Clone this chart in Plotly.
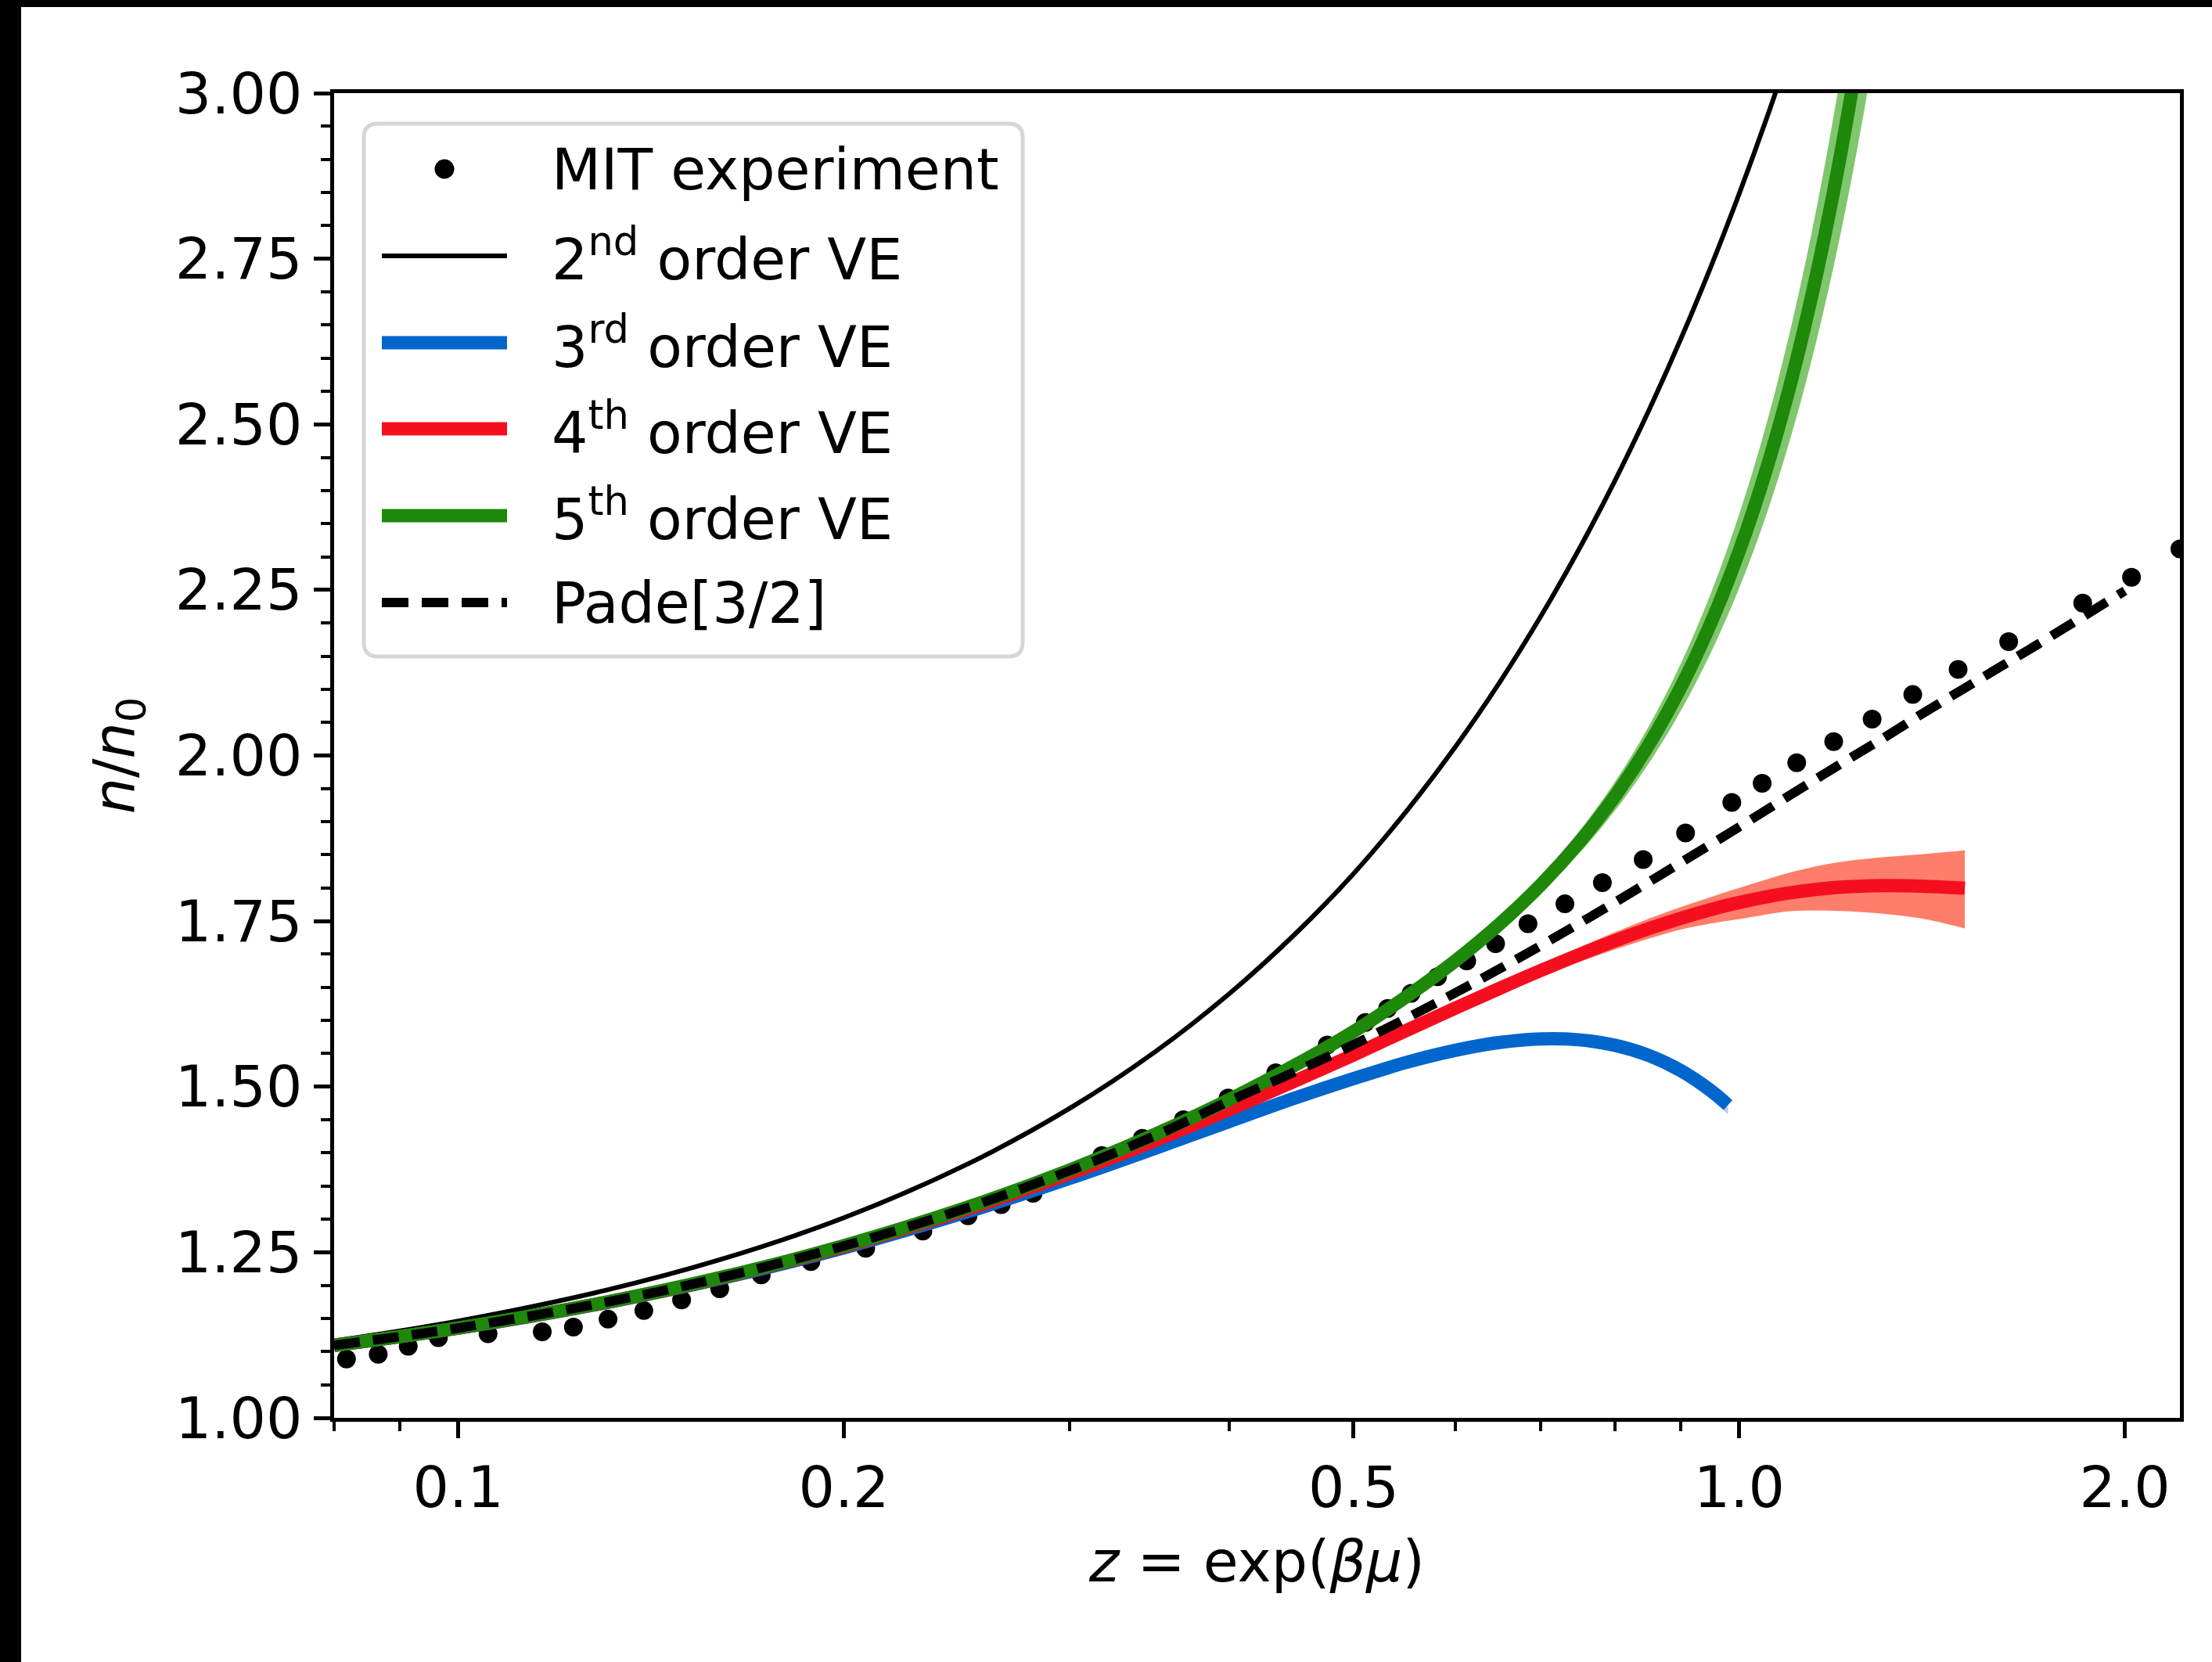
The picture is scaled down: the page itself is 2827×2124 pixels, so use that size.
import math
import plotly.graph_objects as go

# ---------------- data ----------------
mit_z = [0.0818, 0.0866, 0.0914, 0.0965, 0.1055, 0.1163, 0.1230, 0.1309, 0.1396, 0.1494,
         0.1600, 0.1724, 0.1885, 0.2080, 0.2305, 0.2500, 0.2654, 0.2810, 0.2980, 0.3180,
         0.3420, 0.3682, 0.3990, 0.4347, 0.4768, 0.5106, 0.5315, 0.5544, 0.5813, 0.6127,
         0.6453, 0.6840, 0.7310, 0.7819, 0.8414, 0.9080, 0.9867, 1.0420, 1.1088, 1.1850,
         1.2698, 1.366, 1.482, 1.623, 1.854, 2.024, 2.208]
mit_n = [1.089, 1.096, 1.108, 1.121, 1.127, 1.130, 1.137, 1.149, 1.162, 1.178,
         1.195, 1.216, 1.236, 1.256, 1.282, 1.305, 1.322, 1.339, 1.366, 1.396,
         1.422, 1.450, 1.483, 1.521, 1.563, 1.597, 1.618, 1.641, 1.666, 1.690,
         1.716, 1.746, 1.776, 1.808, 1.843, 1.883, 1.929, 1.958, 1.989, 2.021,
         2.055, 2.092, 2.130, 2.172, 2.230, 2.269, 2.312]

z2 = [0.08, 0.1, 0.13, 0.16, 0.2, 0.25, 0.3, 0.35, 0.4, 0.45, 0.5, 0.55, 0.6, 0.65, 0.7,
      0.75, 0.8, 0.85, 0.9, 0.95, 1.0, 1.05, 1.1]
n2 = [1.1163, 1.1463, 1.1921, 1.2387, 1.3021, 1.3835, 1.4670, 1.5527, 1.6406, 1.7304,
      1.8217, 1.9164, 2.0124, 2.1103, 2.2102, 2.3119, 2.4155, 2.5210, 2.6283, 2.7374,
      2.8483, 2.9609, 3.0753]

z3 = [0.08, 0.1, 0.13, 0.16, 0.2, 0.25, 0.3, 0.35, 0.4, 0.45, 0.5, 0.55, 0.6, 0.65, 0.7,
      0.75, 0.8, 0.85, 0.9, 0.95, 0.98]
n3 = [1.1093, 1.1353, 1.1733, 1.2099, 1.2566, 1.3113, 1.3615, 1.4070, 1.4475, 1.4828,
      1.5122, 1.5368, 1.5548, 1.5667, 1.5721, 1.5707, 1.5625, 1.5471, 1.5244, 1.4941, 1.4722]
n3_lo = [1.1093, 1.1353, 1.1733, 1.2099, 1.2563, 1.3107, 1.3605, 1.4055, 1.4455, 1.4802,
         1.5090, 1.5328, 1.5500, 1.5610, 1.5655, 1.5630, 1.5536, 1.5370, 1.5129, 1.4811, 1.4583]
n3_hi = [1.1093, 1.1353, 1.1733, 1.2099, 1.2569, 1.3119, 1.3625, 1.4085, 1.4495, 1.4854,
         1.5154, 1.5408, 1.5596, 1.5724, 1.5787, 1.5784, 1.5714, 1.5572, 1.5359, 1.5071, 1.4861]

z4 = [0.08, 0.1, 0.13, 0.16, 0.2, 0.25, 0.3, 0.35, 0.4, 0.45, 0.5, 0.55, 0.6, 0.65, 0.7,
      0.75, 0.8, 0.85, 0.9, 0.95, 1.0, 1.1, 1.2, 1.3, 1.4, 1.5]
n4 = [1.1094, 1.1356, 1.1739, 1.2110, 1.2587, 1.3154, 1.3688, 1.4188, 1.4654, 1.5086,
      1.5480, 1.5851, 1.6183, 1.6484, 1.6754, 1.6993, 1.7203, 1.7386, 1.7542, 1.7673,
      1.7780, 1.7932, 1.8012, 1.8037, 1.8025, 1.7997]
n4_hi = [1.1094, 1.1356, 1.1739, 1.2110, 1.2587, 1.3154, 1.3688, 1.4188, 1.4654, 1.5086,
         1.5500, 1.5881, 1.6233, 1.6554, 1.6844, 1.7103, 1.7333, 1.7536, 1.7712, 1.7863,
         1.8000, 1.8242, 1.8392, 1.8467, 1.8515, 1.8567]
n4_lo = [1.1094, 1.1356, 1.1739, 1.2110, 1.2587, 1.3154, 1.3688, 1.4188, 1.4654, 1.5086,
         1.5460, 1.5821, 1.6133, 1.6414, 1.6664, 1.6883, 1.7073, 1.7236, 1.7372, 1.7463,
         1.7530, 1.7652, 1.7652, 1.7607, 1.7525, 1.7387]

z5 = [0.08, 0.1, 0.13, 0.16, 0.2, 0.25, 0.3, 0.35, 0.4, 0.45, 0.5, 0.55, 0.6, 0.65, 0.7,
      0.75, 0.8, 0.85, 0.9, 0.95, 1.0, 1.05, 1.1, 1.15, 1.2, 1.25, 1.3]
n5 = [1.1095, 1.1357, 1.1741, 1.2116, 1.2600, 1.3182, 1.3741, 1.4281, 1.4807, 1.5324,
      1.5834, 1.6361, 1.6896, 1.7455, 1.8048, 1.8689, 1.9389, 2.0163, 2.1026, 2.1995,
      2.3087, 2.4320, 2.5717, 2.7296, 2.9082, 3.1099, 3.3371]
n5_hi = [1.1095, 1.1357, 1.1741, 1.2116, 1.2600, 1.3182, 1.3741, 1.4288, 1.4820, 1.5344,
         1.5865, 1.6407, 1.6961, 1.7547, 1.8173, 1.8856, 1.9607, 2.0444, 2.1383, 2.2443,
         2.3643, 2.5003, 2.6547, 2.8297, 3.0281, 3.2524, 3.5055]
n5_lo = [1.1095, 1.1357, 1.1741, 1.2116, 1.2600, 1.3182, 1.3741, 1.4274, 1.4794, 1.5304,
         1.5803, 1.6315, 1.6831, 1.7363, 1.7923, 1.8522, 1.9171, 1.9882, 2.0669, 2.1547,
         2.2531, 2.3637, 2.4887, 2.6295, 2.7883, 2.9673, 3.1687]

zp = [0.08, 0.1, 0.13, 0.16, 0.2, 0.25, 0.3, 0.35, 0.4, 0.45, 0.5, 0.55, 0.6, 0.65, 0.7,
      0.75, 0.8, 0.85, 0.9, 1.0, 1.1, 1.2, 1.3, 1.4, 1.5, 1.7, 2.0]
np_ = [1.1094, 1.1356, 1.1740, 1.2113, 1.2596, 1.3175, 1.3730, 1.4260, 1.4785, 1.5225,
       1.5635, 1.6035, 1.6415, 1.6780, 1.7130, 1.7465, 1.7784, 1.8090, 1.8381, 1.8922,
       1.9422, 1.9874, 2.0280, 2.0670, 2.1018, 2.1648, 2.2487]

x_tickvals = [0.1, 0.2, 0.5, 1.0, 2.0]
x_ticktext = ["0.1", "0.2", "0.5", "1.0", "2.0"]
x_minor = [0.08, 0.09, 0.3, 0.4, 0.6, 0.7, 0.8, 0.9]
y_tickvals = [1.0, 1.25, 1.5, 1.75, 2.0, 2.25, 2.5, 2.75, 3.0]
y_ticktext = ["1.00", "1.25", "1.50", "1.75", "2.00", "2.25", "2.50", "2.75", "3.00"]
y_minor = [round(1 + 0.05 * k, 2) for k in range(41) if k % 5 != 0]

legend_labels = ["MIT experiment", "2<sup>nd</sup> order VE", "3<sup>rd</sup> order VE",
                 "4<sup>th</sup> order VE", "5<sup>th</sup> order VE", "Pade[3/2]"]

# ---------------- styling ----------------
W, H = 2827, 2124
PL, PR, PT, PB = 427, 2786, 119, 1812
PW, PH = PR - PL, PB - PT
FONT = "DejaVu Sans"
FS = 73

BLUE, RED, GREEN = "#0066cc", "#f50f1e", "#1e880b"
BLUE_BAND, RED_BAND, GREEN_BAND = "#bcc8f0", "#ff7e69", "#80c66d"


def px(X):
    return (X - PL) / PW


def py(Y):
    return (PB - Y) / PH


fig = go.Figure()

fig.add_trace(go.Scatter(x=mit_z, y=mit_n, mode="markers", name="MIT experiment",
                         marker=dict(size=24, color="black")))
fig.add_trace(go.Scatter(x=z2, y=n2, mode="lines", name="2nd order VE",
                         line=dict(color="black", width=6, shape="spline")))


def band(zs, lo, hi, color):
    fig.add_trace(go.Scatter(x=zs, y=lo, mode="lines", showlegend=False, hoverinfo="skip",
                             line=dict(width=0, color=color, shape="spline")))
    fig.add_trace(go.Scatter(x=zs, y=hi, mode="lines", showlegend=False, hoverinfo="skip",
                             fill="tonexty", fillcolor=color,
                             line=dict(width=0, color=color, shape="spline")))


band(z3, n3_lo, n3_hi, BLUE_BAND)
fig.add_trace(go.Scatter(x=z3, y=n3, mode="lines", name="3rd order VE",
                         line=dict(color=BLUE, width=17, shape="spline")))
band(z4, n4_lo, n4_hi, RED_BAND)
fig.add_trace(go.Scatter(x=z4, y=n4, mode="lines", name="4th order VE",
                         line=dict(color=RED, width=17, shape="spline")))
band(z5, n5_lo, n5_hi, GREEN_BAND)
fig.add_trace(go.Scatter(x=z5, y=n5, mode="lines", name="5th order VE",
                         line=dict(color=GREEN, width=17, shape="spline")))
fig.add_trace(go.Scatter(x=zp, y=np_, mode="lines", name="Pade[3/2]",
                         line=dict(color="black", width=12, dash="33px,17px", shape="spline")))

axis_common = dict(showline=True, linewidth=5, linecolor="black", mirror=True,
                   showgrid=False, zeroline=False, ticks="outside", ticklen=21,
                   tickwidth=5, tickcolor="black",
                   tickfont=dict(family=FONT, size=FS, color="black"))

fig.update_layout(
    width=W, height=H,
    margin=dict(l=PL, r=W - PR, t=PT, b=H - PB, pad=0),
    paper_bgcolor="white", plot_bgcolor="white",
    showlegend=False,
    font=dict(family=FONT, size=FS, color="black"),
    xaxis=dict(type="log", range=[math.log10(0.08), math.log10(2.208)],
               tickmode="array", tickvals=x_tickvals, ticktext=x_ticktext,
               minor=dict(tickmode="array", tickvals=x_minor, ticks="outside", ticklen=12,
                          tickwidth=4, tickcolor="black", showgrid=False),
               title=dict(text="<i>z</i> = exp(<i>βμ</i>)", standoff=30,
                          font=dict(family=FONT, size=FS)),
               **axis_common),
    yaxis=dict(range=[1.0, 3.0], tickmode="array", tickvals=y_tickvals, ticktext=y_ticktext,
               minor=dict(tickmode="array", tickvals=y_minor, ticks="outside", ticklen=12,
                          tickwidth=4, tickcolor="black", showgrid=False),
               title=dict(text="<i>n</i>/<i>n</i><sub>0</sub>", standoff=30,
                          font=dict(family=FONT, size=FS)),
               **axis_common),
)

shapes = []
# black stripes on the top and left edges of the picture
shapes.append(dict(type="rect", xref="paper", yref="paper", x0=px(0), x1=px(27),
                   y0=py(H), y1=py(0), fillcolor="black", line=dict(width=0), layer="above"))
shapes.append(dict(type="rect", xref="paper", yref="paper", x0=px(0), x1=px(W),
                   y0=py(9), y1=py(0), fillcolor="black", line=dict(width=0), layer="above"))

# legend frame (rounded)
bx0, bx1, by0, by1 = 465, 1307, 158, 839
r = 18
path = (f"M{px(bx0 + r)},{py(by0)} L{px(bx1 - r)},{py(by0)} Q{px(bx1)},{py(by0)} {px(bx1)},{py(by0 + r)} "
        f"L{px(bx1)},{py(by1 - r)} Q{px(bx1)},{py(by1)} {px(bx1 - r)},{py(by1)} "
        f"L{px(bx0 + r)},{py(by1)} Q{px(bx0)},{py(by1)} {px(bx0)},{py(by1 - r)} "
        f"L{px(bx0)},{py(by0 + r)} Q{px(bx0)},{py(by0)} {px(bx0 + r)},{py(by0)} Z")
shapes.append(dict(type="path", xref="paper", yref="paper", path=path,
                   fillcolor="rgba(255,255,255,0.8)", line=dict(color="#d6d6d6", width=5),
                   layer="above"))

rows = [216, 327, 438, 548, 659, 770]
hx0, hx1 = 488, 648
# MIT marker handle
shapes.append(dict(type="circle", xref="paper", yref="paper",
                   x0=px(568 - 12.5), x1=px(568 + 12.5), y0=py(rows[0] + 12.5), y1=py(rows[0] - 12.5),
                   fillcolor="black", line=dict(width=0), layer="above"))
handle_styles = [("black", 6, "solid"), (BLUE, 17, "solid"), (RED, 17, "solid"),
                 (GREEN, 17, "solid"), ("black", 12, "34px,17px")]
for (col, wdt, dsh), yy in zip(handle_styles, rows[1:]):
    shapes.append(dict(type="line", xref="paper", yref="paper", x0=px(hx0), x1=px(hx1),
                       y0=py(yy), y1=py(yy), line=dict(color=col, width=wdt, dash=dsh),
                       layer="above"))

annotations = []
for lab, yy in zip(legend_labels, rows):
    annotations.append(dict(text=lab, xref="paper", yref="paper", x=px(703), y=py(yy),
                            xanchor="left", yanchor="middle", showarrow=False,
                            font=dict(family=FONT, size=FS, color="black")))

fig.update_layout(shapes=shapes, annotations=annotations)
fig.write_html("out.html")
